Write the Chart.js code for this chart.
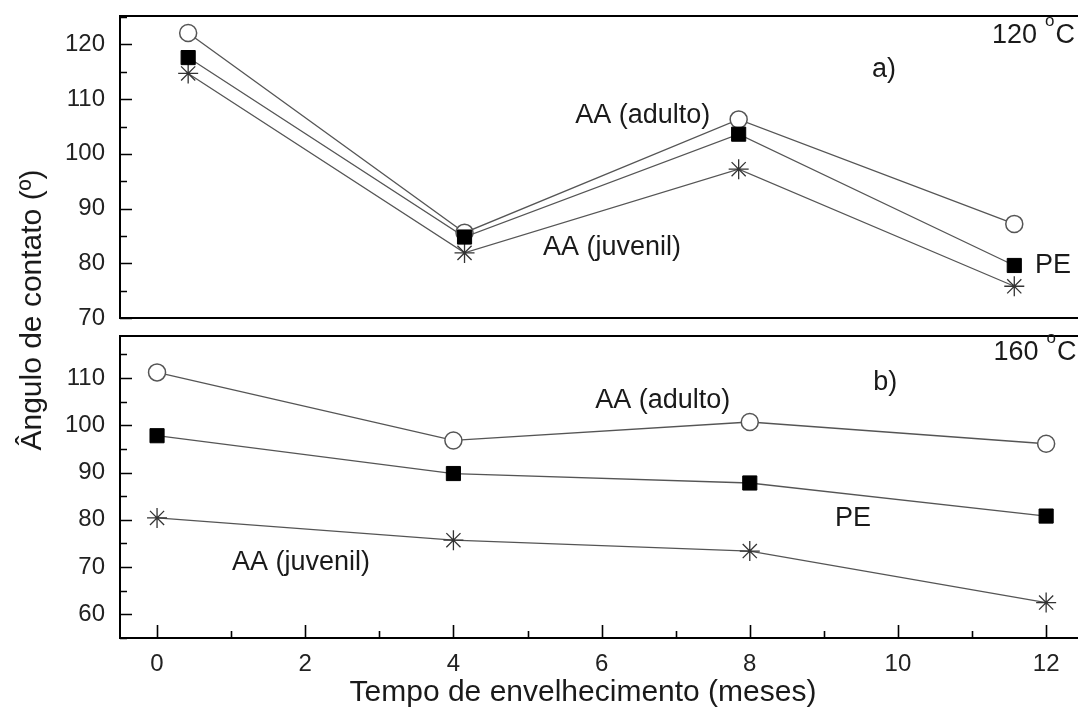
<!DOCTYPE html>
<html>
<head>
<meta charset="utf-8">
<script src="https://cdn.jsdelivr.net/npm/chart.js@4.4.1/dist/chart.umd.min.js"></script>
<style>
  html, body { margin: 0; padding: 0; background: #fff; overflow: hidden; }
  .panel { position: absolute; left: 0; top: 0; width: 1078px; height: 708px; }
</style>
</head>
<body>
<div class="panel"><canvas id="bottomChart"></canvas></div>
<div class="panel"><canvas id="topChart"></canvas></div>
<script>
// --- DATA ---
const topMonths = [0.42, 4.15, 7.85, 11.57];   // panel a) points sit slightly shifted
const months = [0, 4, 8, 12];                  // panel b)

// a) 120 °C
const topAdulto  = [122.1, 85.6, 106.3, 87.2];
const topPE      = [117.6, 84.8, 103.6, 79.6];
const topJuvenil = [114.7, 81.9, 97.2, 75.8];

// b) 160 °C
const botAdulto  = [111.2, 96.8, 100.7, 96.1];
const botPE      = [97.8, 89.8, 87.8, 80.8];
const botJuvenil = [80.4, 75.7, 73.4, 62.5];

const xTitle = "Tempo de envelhecimento (meses)";
const yTitle = "Ângulo de contato (º)";

const FONT = "'Liberation Sans', Arial, sans-serif";
const LINE = '#555';

const pts = (xs, ys) => xs.map((x, i) => ({ x: x, y: ys[i] }));

// square first so it ends up drawn on top
function makeSets(xs, pe, adulto, juvenil) {
    return [
        { data: pts(xs, pe), borderColor: LINE, borderWidth: 1.3,
          pointStyle: 'rect', pointRadius: 10, pointBackgroundColor: '#000', pointBorderColor: '#000', pointBorderWidth: 1 },
        { data: pts(xs, adulto), borderColor: LINE, borderWidth: 1.3,
          pointStyle: 'circle', pointRadius: 8.5, pointBackgroundColor: '#fff', pointBorderColor: '#555', pointBorderWidth: 1.5 },
        { data: pts(xs, juvenil), borderColor: LINE, borderWidth: 1.3,
          pointStyle: 'star', pointRadius: 10, pointBackgroundColor: '#000', pointBorderColor: '#333', pointBorderWidth: 1.3 }
    ];
}

// box on three sides + inward ticks
const frameTicks = {
    id: 'frameTicks',
    afterDraw(chart, args, opts) {
        const { ctx, chartArea: a, scales: { x, y } } = chart;
        ctx.save();
        ctx.strokeStyle = '#000';
        ctx.lineWidth = 2;
        ctx.beginPath();
        ctx.moveTo(a.right + 5, a.top);
        ctx.lineTo(a.left, a.top);
        ctx.lineTo(a.left, a.bottom);
        ctx.lineTo(a.right + 5, a.bottom);
        ctx.stroke();

        ctx.lineWidth = 1.6;
        ctx.beginPath();
        for (let v = Math.ceil(y.min / 5) * 5; v <= y.max; v += 5) {
            const py = Math.round(y.getPixelForValue(v)) + 0.5;
            const len = v % 10 === 0 ? 12 : 7;
            ctx.moveTo(a.left, py);
            ctx.lineTo(a.left + len, py);
        }
        if (opts.xTicks) {
            for (let v = Math.ceil(x.min); v <= x.max; v++) {
                const px = Math.round(x.getPixelForValue(v)) + 0.5;
                const len = v % 2 === 0 ? 13 : 7;
                ctx.moveTo(px, a.bottom);
                ctx.lineTo(px, a.bottom - len);
            }
        }
        ctx.stroke();
        ctx.restore();
    }
};

// text notes placed in data units, plus the axis titles
const notes = {
    id: 'notes',
    afterDraw(chart, args, opts) {
        const { ctx, scales: { x, y } } = chart;
        ctx.save();
        ctx.fillStyle = '#1a1a1a';
        ctx.textBaseline = 'alphabetic';
        ctx.textAlign = 'left';
        ctx.font = '27px ' + FONT;
        (opts.items || []).forEach(([txt, vx, vy]) => {
            ctx.fillText(txt, x.getPixelForValue(vx), y.getPixelForValue(vy));
        });
        if (opts.temp) {
            const [txt, vx, vy] = opts.temp;
            const px = x.getPixelForValue(vx), py = y.getPixelForValue(vy);
            ctx.fillText(txt, px, py);
            const w = ctx.measureText(txt).width;
            ctx.font = '17px ' + FONT;
            ctx.fillText('o', px + w + 8, py - 17);
            const wo = ctx.measureText('o').width;
            ctx.font = '27px ' + FONT;
            ctx.fillText('C', px + w + 9 + wo, py);
        }
        if (opts.xTitle) {
            ctx.textAlign = 'center';
            ctx.font = '30px ' + FONT;
            ctx.fillText(opts.xTitle, 583, 701);
        }
        if (opts.yTitle) {
            ctx.translate(33, 310);
            ctx.rotate(-Math.PI / 2);
            ctx.textAlign = 'center';
            ctx.textBaseline = 'middle';
            ctx.font = '30px ' + FONT;
            ctx.fillText(opts.yTitle, 0, 0);
        }
        ctx.restore();
    }
};

function noPad(s) {
    s.paddingTop = 0; s.paddingBottom = 0; s.paddingLeft = 0; s.paddingRight = 0;
}

function yAxis(min, max) {
    return {
        type: 'linear', min: min, max: max,
        grid: { display: false, drawTicks: false },
        border: { display: false },
        ticks: { stepSize: 10, includeBounds: false, padding: 15, color: '#222', font: { family: FONT, size: 24 } },
        afterFit(s) { s.width = 120; noPad(s); }
    };
}

const baseOpts = {
    responsive: true,
    maintainAspectRatio: false,
    animation: false,
    events: []
};

// --- a) 120 °C ---
new Chart(document.getElementById('topChart'), {
    type: 'line',
    data: { datasets: makeSets(topMonths, topPE, topAdulto, topJuvenil) },
    options: {
        ...baseOpts,
        layout: { autoPadding: false, padding: { top: 16, bottom: 390, left: 0, right: 0 } },
        scales: {
            x: { type: 'linear', min: -0.5, max: 12.43, display: false },
            y: yAxis(70, 125.2)
        },
        plugins: {
            legend: { display: false },
            tooltip: { enabled: false },
            frameTicks: { xTicks: false },
            notes: {
                items: [['a)', 9.65, 114.0], ['AA (adulto)', 5.645, 105.56], ['AA (juvenil)', 5.21, 81.57], ['PE', 11.85, 78.23]],
                temp: ['120', 11.27, 120.24],
                yTitle: yTitle
            }
        }
    },
    plugins: [frameTicks, notes]
});

// --- b) 160 °C ---
new Chart(document.getElementById('bottomChart'), {
    type: 'line',
    data: { datasets: makeSets(months, botPE, botAdulto, botJuvenil) },
    options: {
        ...baseOpts,
        layout: { autoPadding: false, padding: { top: 336, bottom: 0, left: 0, right: 0 } },
        scales: {
            x: {
                type: 'linear', min: -0.5, max: 12.43,
                grid: { display: false, drawTicks: false },
                border: { display: false },
                ticks: { stepSize: 2, includeBounds: false, padding: 12, color: '#222', font: { family: FONT, size: 24 } },
                afterFit(s) { s.height = 70; noPad(s); }
            },
            y: yAxis(55, 118.9)
        },
        plugins: {
            legend: { display: false },
            tooltip: { enabled: false },
            frameTicks: { xTicks: true },
            notes: {
                items: [['b)', 9.667, 107.53], ['AA (adulto)', 5.915, 103.66], ['PE', 9.15, 78.8], ['AA (juvenil)', 1.01, 69.3]],
                temp: ['160', 11.29, 113.72],
                xTitle: xTitle
            }
        }
    },
    plugins: [frameTicks, notes]
});
</script>
</body>
</html>
